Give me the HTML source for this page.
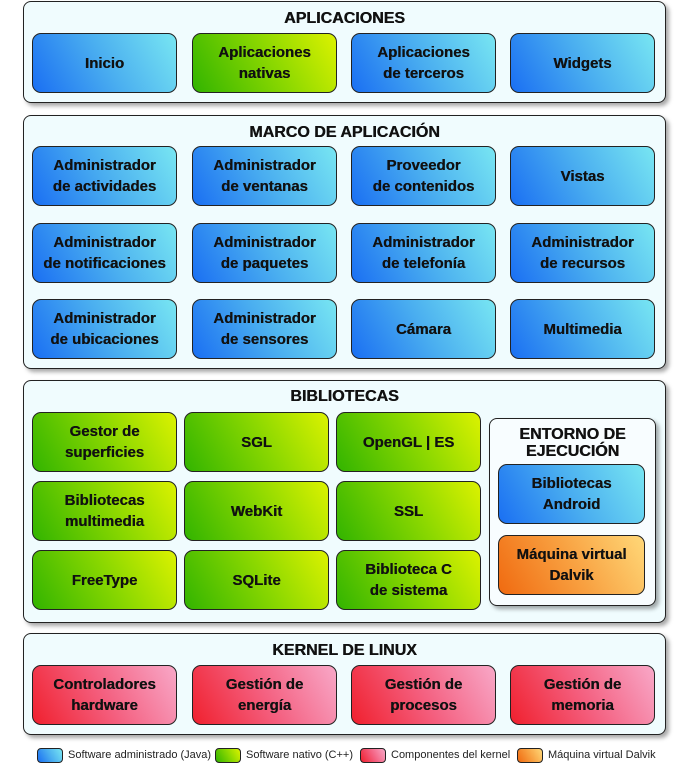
<!DOCTYPE html>
<html><head><meta charset="utf-8"><style>
body{margin:0;width:690px;height:776px;background:#fff;font-family:"Liberation Sans",sans-serif;position:relative;overflow:hidden}
.s{position:absolute;background:#f0fcfe;border:1.5px solid #222;border-radius:8px;box-shadow:3px 3px 4px rgba(0,0,0,.35);box-sizing:border-box}
.t{position:absolute;left:0;right:0;text-align:center;font-weight:bold;font-size:16px;color:#111;text-shadow:0.4px 0 0 #111}
.b{position:absolute;border:1.5px solid #222;border-radius:9px;box-sizing:border-box;display:flex;align-items:center;justify-content:center;text-align:center;font-weight:bold;font-size:15px;line-height:21px;color:#111;width:145px;height:60px;text-shadow:0.3px 0 0 #111}
.bl{background:linear-gradient(60deg,#1a6ff2,#4aaef0 50%,#78e6f2)}
.g{background:linear-gradient(60deg,#32b400,#8cd800 55%,#dcf200)}
.r{background:linear-gradient(60deg,#f0202e,#f46080 50%,#f8a8c8)}
.o{background:linear-gradient(60deg,#f06a10,#f8a040 50%,#ffd878)}
.lg{position:absolute;top:748px;width:26px;height:15px;border:1.5px solid #222;border-radius:4px;box-sizing:border-box}
.lt{position:absolute;top:749px;font-size:11px;color:#222}
</style></head><body>
<div class="s" style="left:23px;top:1px;width:643px;height:102px"><div class="t" style="top:8px">APLICACIONES</div></div>
<div class="b bl" style="left:32px;top:33px">Inicio</div>
<div class="b g" style="left:192px;top:33px">Aplicaciones<br>nativas</div>
<div class="b bl" style="left:351px;top:33px">Aplicaciones<br>de terceros</div>
<div class="b bl" style="left:510px;top:33px">Widgets</div>

<div class="s" style="left:23px;top:115px;width:643px;height:254px"><div class="t" style="top:8px">MARCO DE APLICACIÓN</div></div>
<div class="b bl" style="left:32px;top:146px">Administrador<br>de actividades</div>
<div class="b bl" style="left:192px;top:146px">Administrador<br>de ventanas</div>
<div class="b bl" style="left:351px;top:146px">Proveedor<br>de contenidos</div>
<div class="b bl" style="left:510px;top:146px">Vistas</div>
<div class="b bl" style="left:32px;top:223px">Administrador<br>de notificaciones</div>
<div class="b bl" style="left:192px;top:223px">Administrador<br>de paquetes</div>
<div class="b bl" style="left:351px;top:223px">Administrador<br>de telefonía</div>
<div class="b bl" style="left:510px;top:223px">Administrador<br>de recursos</div>
<div class="b bl" style="left:32px;top:299px">Administrador<br>de ubicaciones</div>
<div class="b bl" style="left:192px;top:299px">Administrador<br>de sensores</div>
<div class="b bl" style="left:351px;top:299px">Cámara</div>
<div class="b bl" style="left:510px;top:299px">Multimedia</div>

<div class="s" style="left:23px;top:380px;width:643px;height:243px"><div class="t" style="top:7px">BIBLIOTECAS</div></div>
<div class="b g" style="left:32px;top:412px">Gestor de<br>superficies</div>
<div class="b g" style="left:184px;top:412px">SGL</div>
<div class="b g" style="left:336px;top:412px">OpenGL | ES</div>
<div class="b g" style="left:32px;top:481px">Bibliotecas<br>multimedia</div>
<div class="b g" style="left:184px;top:481px">WebKit</div>
<div class="b g" style="left:336px;top:481px">SSL</div>
<div class="b g" style="left:32px;top:550px">FreeType</div>
<div class="b g" style="left:184px;top:550px">SQLite</div>
<div class="b g" style="left:336px;top:550px">Biblioteca C<br>de sistema</div>
<div class="s" style="left:489px;top:418px;width:167px;height:188px;background:#f8fdff"><div class="t" style="top:7px;line-height:17px">ENTORNO DE<br>EJECUCIÓN</div></div>
<div class="b bl" style="left:498px;top:464px;width:147px">Bibliotecas<br>Android</div>
<div class="b o" style="left:498px;top:535px;width:147px">Máquina virtual<br>Dalvik</div>

<div class="s" style="left:23px;top:633px;width:643px;height:102px"><div class="t" style="top:8px">KERNEL DE LINUX</div></div>
<div class="b r" style="left:32px;top:665px">Controladores<br>hardware</div>
<div class="b r" style="left:192px;top:665px">Gestión de<br>energía</div>
<div class="b r" style="left:351px;top:665px">Gestión de<br>procesos</div>
<div class="b r" style="left:510px;top:665px">Gestión de<br>memoria</div>

<div class="lg bl" style="left:37px"></div><div class="lt" style="left:68px">Software administrado (Java)</div>
<div class="lg g" style="left:215px"></div><div class="lt" style="left:246px">Software nativo (C++)</div>
<div class="lg r" style="left:360px"></div><div class="lt" style="left:391px">Componentes del kernel</div>
<div class="lg o" style="left:517px"></div><div class="lt" style="left:548px">Máquina virtual Dalvik</div>
</body></html>
